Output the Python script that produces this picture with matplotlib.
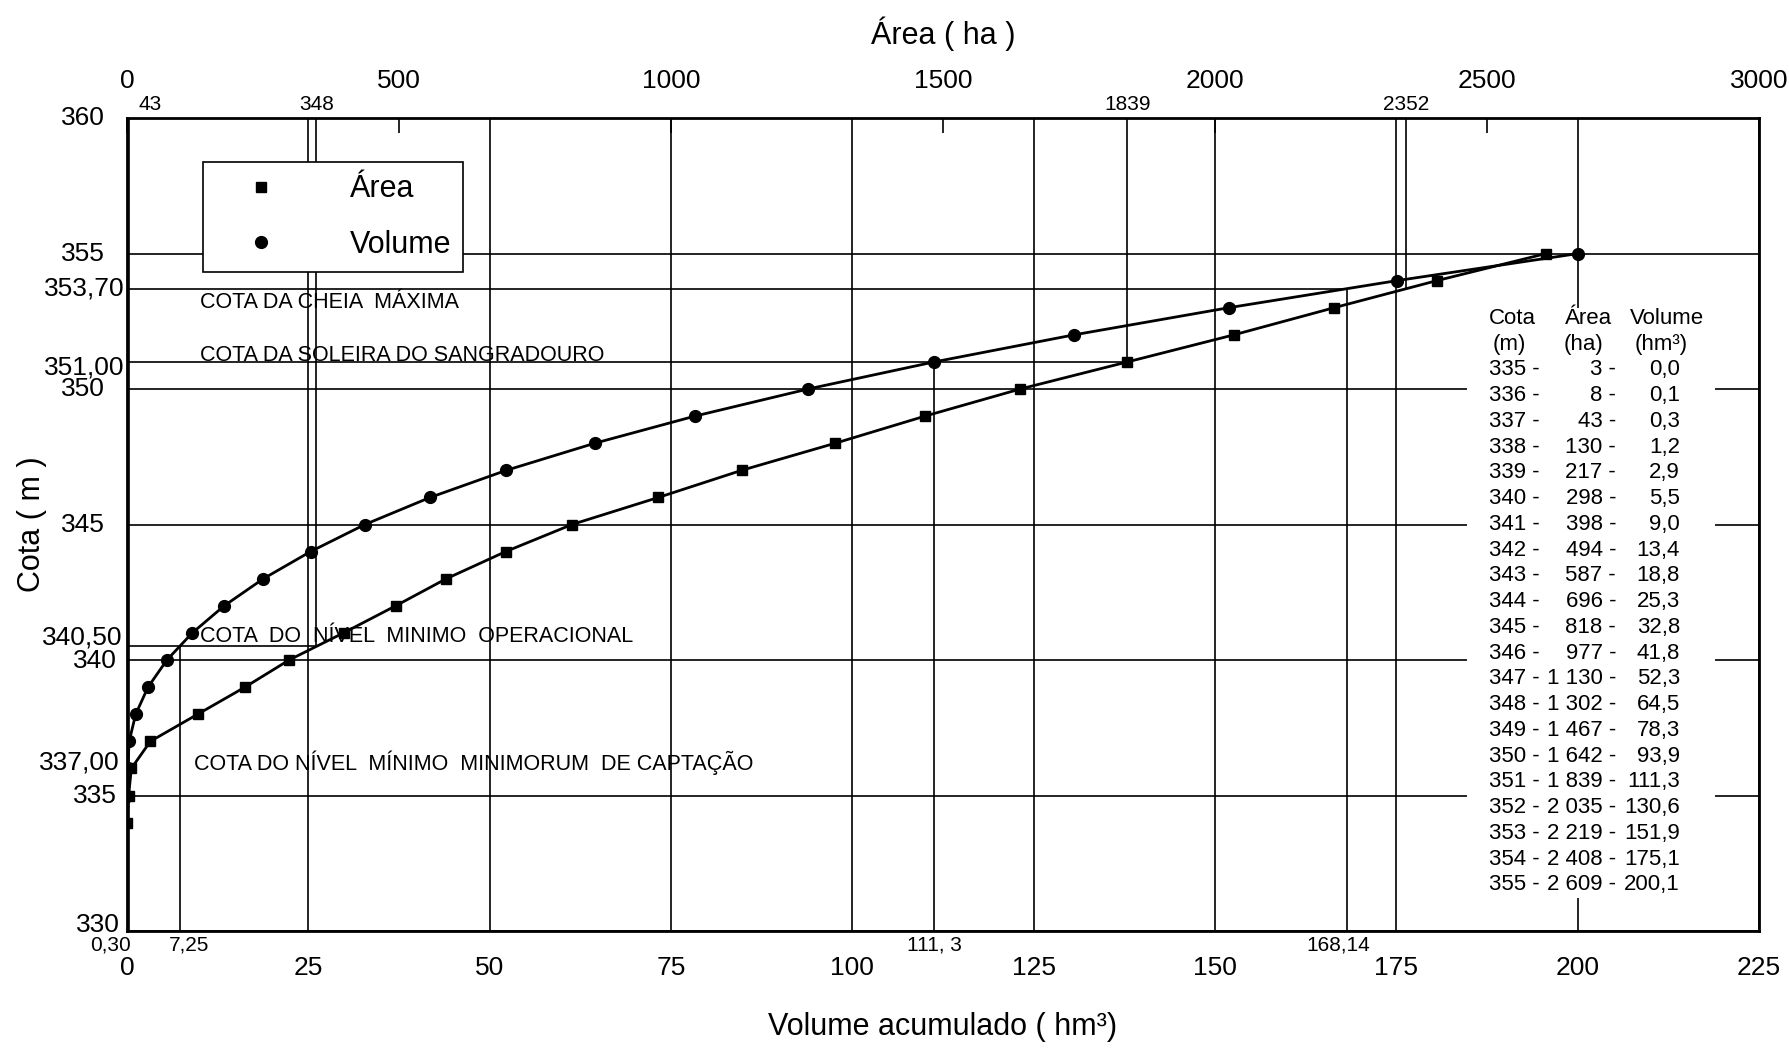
import matplotlib
matplotlib.use("Agg")
import matplotlib.pyplot as plt
from matplotlib.lines import Line2D
from matplotlib.patches import Rectangle

plt.rcParams['font.family'] = ['Liberation Sans', 'DejaVu Sans']

# cota - area - volume table of the reservoir
cota = [335, 336, 337, 338, 339, 340, 341, 342, 343, 344, 345,
        346, 347, 348, 349, 350, 351, 352, 353, 354, 355]
area = [3, 8, 43, 130, 217, 298, 398, 494, 587, 696, 818,
        977, 1130, 1302, 1467, 1642, 1839, 2035, 2219, 2408, 2609]
volume = [0.0, 0.1, 0.3, 1.2, 2.9, 5.5, 9.0, 13.4, 18.8, 25.3, 32.8,
          41.8, 52.3, 64.5, 78.3, 93.9, 111.3, 130.6, 151.9, 175.1, 200.1]

# the area curve in the drawing starts one metre lower
area_curve_cota = [334] + cota
area_curve = [0] + area

# marked levels (min. minimorum, min. operacional, sangradouro, cheia maxima)
ref_cota = [337.0, 340.5, 351.0, 353.7]
ref_volume = [0.30, 7.25, 111.3, 168.14]
ref_area = [43, 348, 1839, 2352]
ref_volume_labels = ["0,30", "7,25", "111, 3", "168,14"]
ref_area_labels = ["43", "348", "1839", "2352"]

ytick_values = [330, 335, 337.0, 340, 340.5, 345, 350, 351.0, 353.7, 355, 360]
ytick_labels = ["330", "335", "337,00", "340", "340,50", "345", "350",
                "351,00", "353,70", "355", "360"]

vol_ticks = [0, 25, 50, 75, 100, 125, 150, 175, 200, 225]
area_ticks = [0, 500, 1000, 1500, 2000, 2500, 3000]

notes = ["COTA DA CHEIA  MÁXIMA",
         "COTA DA SOLEIRA DO SANGRADOURO",
         "COTA  DO  NÍVEL  MINIMO  OPERACIONAL",
         "COTA DO NÍVEL  MÍNIMO  MINIMORUM  DE CAPTAÇÃO"]


fig = plt.figure(figsize=(17.9, 10.48), dpi=100)
ax = fig.add_axes([0.07095, 0.11164, 0.91173, 0.77576])
ax.set_xlim(0, 225)
ax.set_ylim(330, 360)
ax.set_xticks(vol_ticks)
ax.set_xticklabels([str(v) for v in vol_ticks], fontsize=19)
ax.set_yticks(range(330, 361, 5))
ax.set_yticklabels([])
ax.tick_params(axis='both', length=0)
ax.tick_params(axis='x', pad=18)
ax.grid(True, color='black', lw=1.2)
for s in ax.spines.values():
    s.set_linewidth(2.0)

ax_top = ax.twiny()
ax_top.set_xlim(0, 3000)
ax_top.set_xticks(area_ticks)
ax_top.set_xticklabels([str(a) for a in area_ticks], fontsize=19)
ax_top.tick_params(axis='x', direction='in', length=10.5, width=1.2, pad=18)
for s in ax_top.spines.values():
    s.set_visible(False)

# curves
ax.plot(volume, cota, color='black', lw=2.0, marker='o', ms=8.5, zorder=4)
ax_top.plot(area_curve, area_curve_cota, color='black', lw=2.0, marker='s',
            ms=7, zorder=4)

# reference lines of the marked levels
ax.axvline(ref_volume[0], color='black', lw=1.2, zorder=2)
ax.vlines(ref_volume[1:], 330, ref_cota[1:], color='black', lw=1.2, zorder=2)
ax_top.vlines(ref_area[1:], ref_cota[1:], 360, color='black', lw=1.2, zorder=2)
ax_top.hlines(ref_cota[1:3], 0, ref_area[1:3], color='black', lw=1.2, zorder=2)
ax.hlines(ref_cota[3], 0, ref_volume[3], color='black', lw=1.2, zorder=2)

# left labels
y_offsets = {"330": (-5, 4), "335": (-7, 0), "337,00": (-5, -15.5),
             "340": (-7, -1), "340,50": (-3, 6.8), "345": (-16, 0),
             "350": (-16, 0), "351,00": (-1.5, -4), "353,70": (-1.5, 0),
             "355": (-16, 0), "360": (-16, 0)}
for yv, lbl in zip(ytick_values, ytick_labels):
    ax.annotate(lbl, xy=(0, yv), xycoords=('axes fraction', 'data'),
                xytext=y_offsets[lbl], textcoords='offset points',
                ha='right', va='center', fontsize=19)

# small labels on the volume axis
vol_lbl_style = [('right', 1), ('center', 7), ('center', 0), ('center', -6)]
for v, lbl, (ha, dx) in zip(ref_volume, ref_volume_labels, vol_lbl_style):
    ax.annotate(lbl, xy=(v, 0), xycoords=('data', 'axes fraction'),
                xytext=(dx, -3.5), textcoords='offset points',
                ha=ha, va='top', fontsize=15)

# small labels on the area axis
for a, lbl in zip(ref_area, ref_area_labels):
    ax_top.annotate(lbl, xy=(a, 1), xycoords=('data', 'axes fraction'),
                    xytext=(0, 3), textcoords='offset points',
                    ha='center', va='bottom', fontsize=15)

# level notes
note_pos = [(10.0, 353.19), (10.0, 351.25), (10.0, 340.86), (9.24, 336.21)]
for (x, y), txt in zip(note_pos, notes):
    ax.text(x, y, txt, ha='left', va='center', fontsize=15.5, zorder=3)

# table on the right
ax.add_patch(Rectangle((0.821, 0.0406), 0.152, 0.7254, transform=ax.transAxes,
                       facecolor='white', edgecolor='none', zorder=2.6))
row_y0 = 0.7534
row_step = 0.03166
tkw = dict(transform=ax.transAxes, va='center', fontsize=16, zorder=3)
ax.text(0.8346, row_y0, "Cota", ha='left', **tkw)
ax.text(0.8810, row_y0, "Área", ha='left', **tkw)
ax.text(0.9210, row_y0, "Volume", ha='left', **tkw)
ax.text(0.8370, row_y0 - row_step, "(m)", ha='left', **tkw)
ax.text(0.8805, row_y0 - row_step, "(ha)", ha='left', **tkw)
ax.text(0.9240, row_y0 - row_step, "(hm³)", ha='left', **tkw)
for i, (c, a, v) in enumerate(zip(cota, area, volume)):
    y = row_y0 - (i + 2) * row_step
    ax.text(0.8346, y, "{} -".format(c), ha='left', **tkw)
    ax.text(0.9124, y, "{:,} -".format(a).replace(",", " "), ha='right', **tkw)
    ax.text(0.9516, y, "{:.1f}".format(v).replace(".", ","), ha='right', **tkw)

# legend
handles = [Line2D([], [], marker='s', ls='none', color='black', ms=7.5),
           Line2D([], [], marker='o', ls='none', color='black', ms=8.5)]
leg = ax_top.legend(handles, ['Área', 'Volume'], loc='upper left',
                    bbox_to_anchor=(0.0466, 0.9459), borderaxespad=0,
                    fontsize=22, frameon=True, fancybox=False,
                    edgecolor='black', framealpha=1, handlelength=3.0,
                    handletextpad=1.4, labelspacing=0.85, borderpad=0.4)
leg.get_frame().set_linewidth(1.2)

# axis titles
ax.set_xlabel("Volume acumulado ( hm³)", fontsize=22, va='center')
ax.xaxis.set_label_coords(0.5, -0.118)
ax.set_ylabel("Cota ( m )", fontsize=22, va='center', ha='center')
ax.yaxis.set_label_coords(-0.0582, 0.5)
ax_top.set_xlabel("Área ( ha )", fontsize=22, va='center')
ax_top.xaxis.set_label_coords(0.5, 1.1033)

fig.savefig("out.png", dpi=100)
